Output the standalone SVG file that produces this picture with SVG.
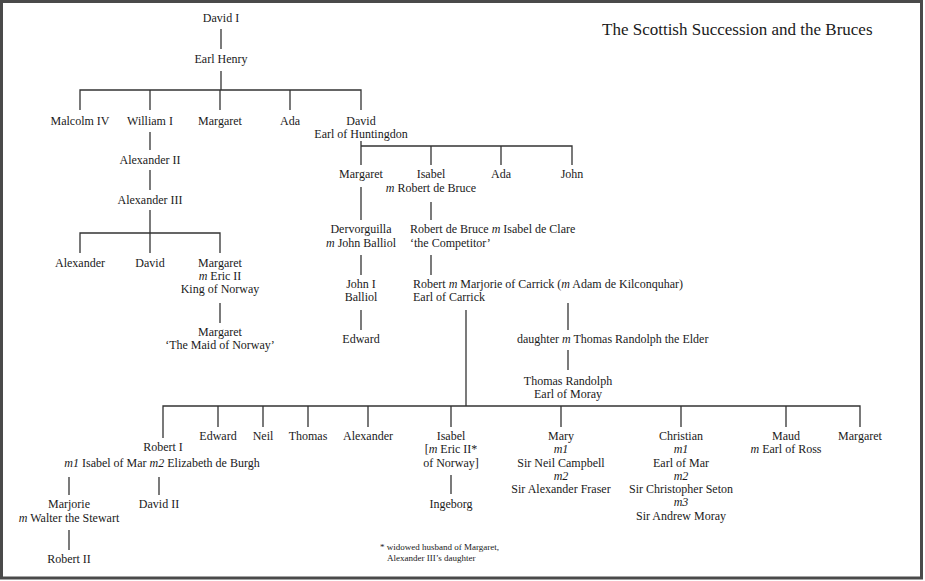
<svg xmlns="http://www.w3.org/2000/svg" width="925" height="581" viewBox="0 0 925 581">
<style>
text{font-family:"Liberation Serif","Times New Roman",serif;font-size:12px;fill:#1a1a1a;text-anchor:middle}
.l{text-anchor:start}
.i{font-style:italic}
.t{font-size:17px;text-anchor:start}
.fn{font-size:9px;text-anchor:start}
#connectors line,#connectors path{stroke:#333;stroke-width:1.3;fill:none}
</style>
<rect x="1.5" y="1.5" width="920" height="576.5" fill="#fff" stroke="#4a4a4a" stroke-width="3"/>
<text class="t" x="602" y="35">The Scottish Succession and the Bruces</text>
<g id="connectors">
<line x1="221" y1="29" x2="221" y2="49"/>
<line x1="221" y1="71" x2="221" y2="90"/>
<path d="M80 110V90H361V110M150 90V110M220 90V110M290 90V110"/>
<line x1="150" y1="132" x2="150" y2="150"/>
<line x1="150" y1="170" x2="150" y2="190"/>
<line x1="150" y1="210" x2="150" y2="253"/>
<path d="M80 253V233H220V253"/>
<line x1="220" y1="303" x2="220" y2="323"/>
<path d="M361 141V165M361 146H572V165M431 146V165M501 146V165"/>
<line x1="361" y1="187" x2="361" y2="220"/>
<line x1="431" y1="202" x2="431" y2="220"/>
<line x1="361" y1="255" x2="361" y2="275"/>
<line x1="431" y1="255" x2="431" y2="275"/>
<line x1="361" y1="310" x2="361" y2="330"/>
<line x1="568" y1="303" x2="568" y2="330"/>
<line x1="568" y1="350" x2="568" y2="370"/>
<line x1="466" y1="310" x2="466" y2="406"/>
<path d="M163 438V406H860V427M218 406V427M263 406V427M308 406V427M368 406V427M451 406V427M561 406V427M681 406V427M786 406V427"/>
<line x1="451" y1="475" x2="451" y2="494"/>
<line x1="69" y1="477" x2="69" y2="495"/>
<line x1="159" y1="477" x2="159" y2="495"/>
<line x1="69" y1="530" x2="69" y2="550"/>
</g>
<g id="david-i"><text x="221" y="22">David I</text></g>
<g id="earl-henry"><text x="221" y="63">Earl Henry</text></g>
<g id="malcolm-iv"><text x="80" y="125">Malcolm IV</text></g>
<g id="william-i"><text x="150" y="125">William I</text></g>
<g id="margaret-1"><text x="220" y="125">Margaret</text></g>
<g id="ada-1"><text x="290" y="125">Ada</text></g>
<g id="david-huntingdon"><text x="361" y="125">David</text><text x="361" y="138">Earl of Huntingdon</text></g>
<g id="alexander-ii"><text x="150" y="164">Alexander II</text></g>
<g id="alexander-iii"><text x="150" y="204">Alexander III</text></g>
<g id="alexander"><text x="80" y="267">Alexander</text></g>
<g id="david"><text x="150" y="267">David</text></g>
<g id="margaret-norway"><text x="220" y="267">Margaret</text><text x="220" y="280"><tspan class="i">m</tspan> Eric II</text><text x="220" y="293">King of Norway</text></g>
<g id="maid-of-norway"><text x="220" y="336">Margaret</text><text x="220" y="349">‘The Maid of Norway’</text></g>
<g id="margaret-2"><text x="361" y="178">Margaret</text></g>
<g id="isabel-1"><text x="431" y="178">Isabel</text><text x="431" y="192"><tspan class="i">m</tspan> Robert de Bruce</text></g>
<g id="ada-2"><text x="501" y="178">Ada</text></g>
<g id="john"><text x="572" y="178">John</text></g>
<g id="dervorguilla"><text x="361" y="233">Dervorguilla</text><text x="361" y="247"><tspan class="i">m</tspan> John Balliol</text></g>
<g id="competitor"><text class="l" x="410" y="233">Robert de Bruce <tspan class="i">m</tspan> Isabel de Clare</text><text class="l" x="410" y="247">‘the Competitor’</text></g>
<g id="john-i"><text x="361" y="288">John I</text><text x="361" y="301">Balliol</text></g>
<g id="robert-carrick"><text class="l" x="413" y="288">Robert <tspan class="i">m</tspan> Marjorie of Carrick (<tspan class="i">m</tspan> Adam de Kilconquhar)</text><text class="l" x="413" y="301">Earl of Carrick</text></g>
<g id="edward-1"><text x="361" y="343">Edward</text></g>
<g id="daughter"><text class="l" x="517" y="343">daughter <tspan class="i">m</tspan> Thomas Randolph the Elder</text></g>
<g id="thomas-randolph"><text x="568" y="385">Thomas Randolph</text><text x="568" y="398">Earl of Moray</text></g>
<g id="robert-i"><text x="163" y="451">Robert I</text><text x="162" y="467"><tspan class="i">m1</tspan> Isabel of Mar <tspan class="i">m2</tspan> Elizabeth de Burgh</text></g>
<g id="edward-2"><text x="218" y="440">Edward</text></g>
<g id="neil"><text x="263" y="440">Neil</text></g>
<g id="thomas"><text x="308" y="440">Thomas</text></g>
<g id="alexander-2"><text x="368" y="440">Alexander</text></g>
<g id="isabel-2"><text x="451" y="440">Isabel</text><text x="451" y="453">[<tspan class="i">m</tspan> Eric II*</text><text x="451" y="467">of Norway]</text></g>
<g id="ingeborg"><text x="451" y="508">Ingeborg</text></g>
<g id="mary"><text x="561" y="440">Mary</text><text class="i" x="561" y="453">m1</text><text x="561" y="467">Sir Neil Campbell</text><text class="i" x="561" y="480">m2</text><text x="561" y="493">Sir Alexander Fraser</text></g>
<g id="christian"><text x="681" y="440">Christian</text><text class="i" x="681" y="453">m1</text><text x="681" y="467">Earl of Mar</text><text class="i" x="681" y="480">m2</text><text x="681" y="493">Sir Christopher Seton</text><text class="i" x="681" y="506">m3</text><text x="681" y="520">Sir Andrew Moray</text></g>
<g id="maud"><text x="786" y="440">Maud</text><text x="786" y="453"><tspan class="i">m</tspan> Earl of Ross</text></g>
<g id="margaret-3"><text x="860" y="440">Margaret</text></g>
<g id="marjorie"><text x="69" y="508">Marjorie</text><text x="69" y="522"><tspan class="i">m</tspan> Walter the Stewart</text></g>
<g id="david-ii"><text x="159" y="508">David II</text></g>
<g id="robert-ii"><text x="69" y="563">Robert II</text></g>
<g id="footnote"><text class="fn" x="380" y="550">* widowed husband of Margaret,</text><text class="fn" x="387" y="561">Alexander III’s daughter</text></g>
</svg>
